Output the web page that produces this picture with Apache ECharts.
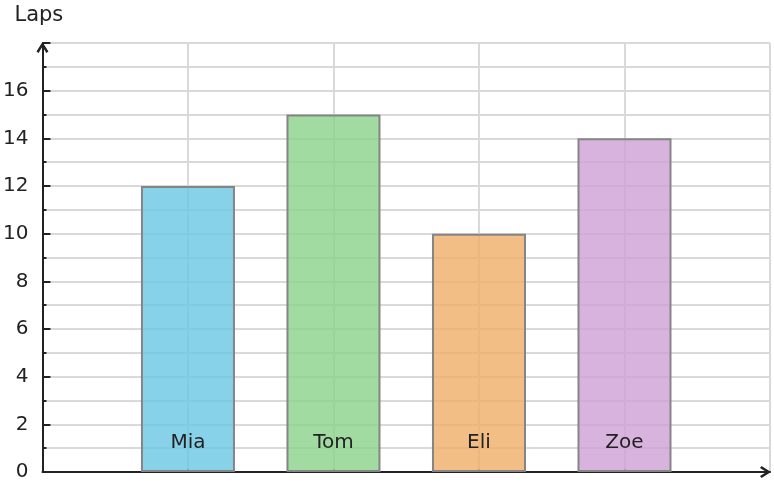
<!DOCTYPE html>
<html>
<head>
	<meta charset="utf-8">
	<title>Laps</title>
	<style>
		html, body { margin: 0; padding: 0; background: #fff; }
		#chart { width: 774px; height: 486px; }
	</style>
</head>
<body>
	<div id="chart"></div>
	<script src="https://cdn.jsdelivr.net/npm/echarts@6/dist/echarts.min.js"></script>
	<script>
		// 数据
		var names = ['Mia', 'Tom', 'Eli', 'Zoe'];
		var laps = [12, 15, 10, 14];
		var barColors = ['rgba(105,198,228,0.8)', 'rgba(137,210,137,0.8)', 'rgba(240,174,102,0.8)', 'rgba(206,160,212,0.8)'];
		var yTicks = [0, 2, 4, 6, 8, 10, 12, 14, 16];

		// 两端留空的类目，让柱子落在 1..4 的位置
		var cats = [''].concat(names, ['']);
		var seriesData = [null];
		for (var i = 0; i < laps.length; i++) {
			seriesData.push({ value: laps[i], itemStyle: { color: barColors[i] } });
		}
		seriesData.push(null);

		// 空心箭头（尖朝上）
		var chevron = 'path://M6,0 L12,9.5 L9.9,11 L6,4.6 L2.1,11 L0,9.5 Z';

		var chart = echarts.init(document.getElementById('chart'));
		var font = 'DejaVu Sans';
		chart.setOption({
			animation: false,
			grid: { left: 42, right: 4, top: 43, bottom: 14 },
			xAxis: [{
				type: 'category',
				data: cats,
				boundaryGap: false,
				axisLine: {
					lineStyle: { color: '#222', width: 2 },
					symbol: ['none', chevron],
					symbolSize: [12, 11],
					symbolOffset: [0, -4.5]
				},
				axisTick: {
					inside: true,
					length: 3,
					interval: function (idx) { return idx > 0 && idx < cats.length - 1; },
					lineStyle: { color: '#555', width: 2 }
				},
				axisLabel: { show: false },
				splitLine: {
					show: true,
					interval: 0,
					lineStyle: { color: '#d9d9d9', width: 2 }
				}
			}, {
				// 只画名字，放在柱子上层
				type: 'category',
				data: cats,
				boundaryGap: false,
				position: 'bottom',
				z: 10,
				axisLine: { show: false },
				axisTick: { show: false },
				splitLine: { show: false },
				axisLabel: {
					inside: true,
					margin: 19,
					fontFamily: font,
					fontSize: 20,
					color: '#222',
					interval: 0
				}
			}],
			yAxis: {
				type: 'value',
				name: 'Laps',
				nameLocation: 'end',
				nameGap: 17,
				nameTextStyle: { fontFamily: font, fontSize: 21, color: '#222', align: 'left', padding: [0, 0, 0, -28] },
				min: 0,
				max: 18,
				interval: 2,
				axisLine: {
					show: true,
					lineStyle: { color: '#222', width: 2 },
					symbol: ['none', chevron],
					symbolSize: [12, 11],
					symbolOffset: [0, -4.5]
				},
				axisTick: {
					show: true,
					inside: true,
					length: 8,
					lineStyle: { color: '#222', width: 2 }
				},
				minorTick: {
					show: true,
					splitNumber: 2,
					length: 4,
					lineStyle: { color: '#222', width: 2 }
				},
				axisLabel: {
					fontFamily: font,
					fontSize: 20,
					color: '#222',
					margin: 14,
					formatter: function (v) { return yTicks.indexOf(v) >= 0 ? v : ''; }
				},
				splitLine: { lineStyle: { color: '#d9d9d9', width: 2 } },
				minorSplitLine: { show: true, lineStyle: { color: '#d9d9d9', width: 2 } }
			},
			series: [{
				type: 'bar',
				data: seriesData,
				barWidth: 94,
				itemStyle: { borderColor: '#858585', borderWidth: 2 }
			}]
		});
	</script>
</body>
</html>
